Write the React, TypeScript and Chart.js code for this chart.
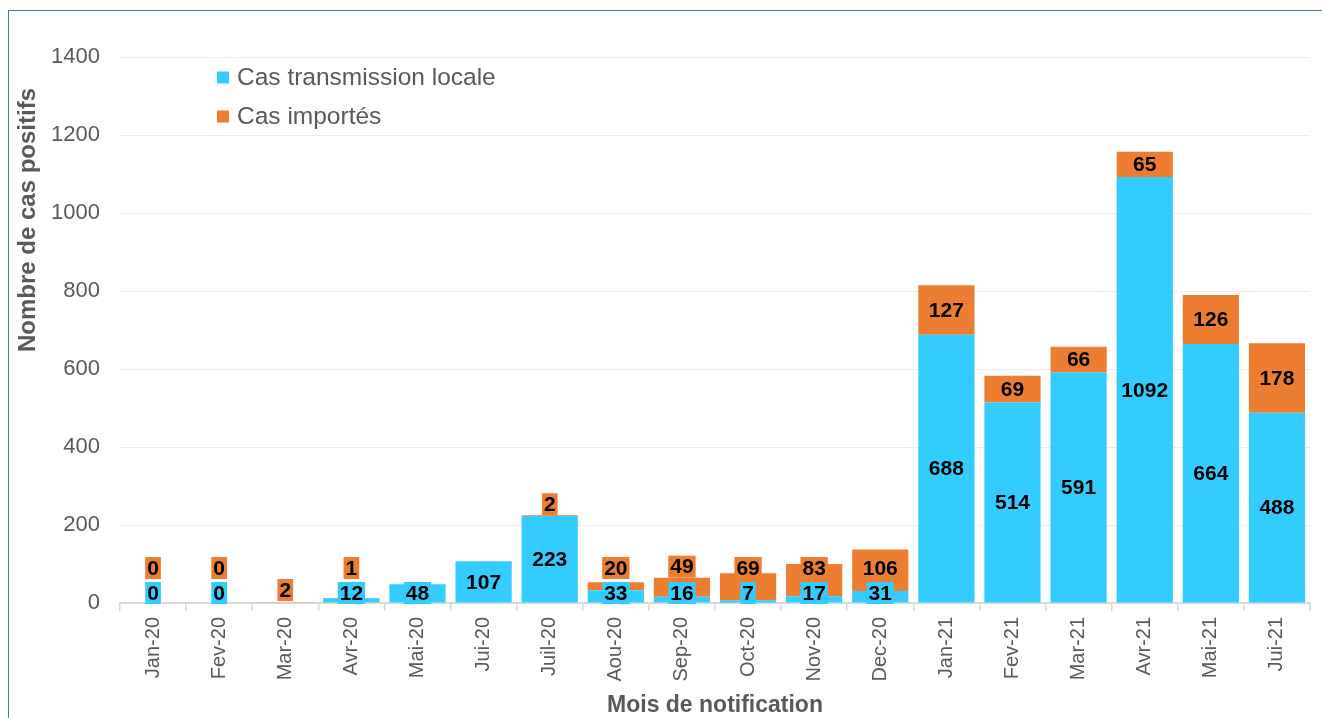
import React, { useEffect, useRef } from "react";
import { Chart, registerables } from "chart.js";

Chart.register(...registerables);

const categories = [
  "Jan-20", "Fev-20", "Mar-20", "Avr-20", "Mai-20", "Jui-20", "Juil-20", "Aou-20", "Sep-20",
  "Oct-20", "Nov-20", "Dec-20", "Jan-21", "Fev-21", "Mar-21", "Avr-21", "Mai-21", "Jui-21",
];
const localCases: (number | null)[] = [0, 0, null, 12, 48, 107, 223, 33, 16, 7, 17, 31, 688, 514, 591, 1092, 664, 488];
const importedCases: (number | null)[] = [0, 0, 2, 1, null, null, 2, 20, 49, 69, 83, 106, 127, 69, 66, 65, 126, 178];
const seriesNames = ["Cas transmission locale", "Cas importés"];
const seriesColors = ["#33CCFF", "#ED7D31"];
const yTicks = [0, 200, 400, 600, 800, 1000, 1200, 1400];
const xTitle = "Mois de notification";
const yTitle = "Nombre de cas positifs";

const FONT = "'Liberation Sans', Arial, Helvetica, sans-serif";
const GREY = "#595959";

const overlayPlugin = {
  id: "overlay",
  afterDatasetsDraw(chart: any) {
    const ctx = chart.ctx as CanvasRenderingContext2D;
    const area = chart.chartArea;
    const yScale = chart.scales.y;
    const base = yScale.getPixelForValue(0);
    const boxH = 22;

    // segment labels
    ctx.save();
    ctx.font = `bold 21px ${FONT}`;
    ctx.textAlign = "center";
    ctx.textBaseline = "middle";
    categories.forEach((_, i) => {
      let prevTop = base + 1;
      chart.data.datasets.forEach((ds: any, di: number) => {
        const v = ds.data[i];
        if (v == null) return;
        const el = chart.getDatasetMeta(di).data[i];
        const top = Math.min(el.y, el.base);
        const bottom = Math.max(el.y, el.base);
        const h = bottom - top;
        let cy = h < boxH && di > 0 ? top - boxH / 2 : (top + bottom) / 2;
        cy = Math.min(cy, prevTop - (di > 0 ? 3 : 0) - boxH / 2);
        const text = String(v);
        const w = ctx.measureText(text).width + 4;
        ctx.fillStyle = ds.backgroundColor;
        ctx.fillRect(el.x - w / 2, cy - boxH / 2, w, boxH);
        ctx.fillStyle = "#000000";
        ctx.fillText(text, el.x, cy + 1);
        prevTop = cy - boxH / 2;
      });
    });
    ctx.restore();

    // legend (inside plot area)
    ctx.save();
    ctx.font = `24.5px ${FONT}`;
    ctx.textAlign = "left";
    ctx.textBaseline = "middle";
    chart.data.datasets.forEach((ds: any, di: number) => {
      const cy = area.top + 20.5 + di * 39;
      ctx.fillStyle = ds.backgroundColor;
      ctx.fillRect(area.left + 97, cy - 6, 12, 12);
      ctx.fillStyle = GREY;
      ctx.fillText(ds.label, area.left + 117, cy + 1);
    });
    ctx.restore();

    // y axis title
    ctx.save();
    ctx.font = `bold 24px ${FONT}`;
    ctx.fillStyle = GREY;
    ctx.textAlign = "center";
    ctx.textBaseline = "middle";
    ctx.translate(19, area.top + 163);
    ctx.rotate(-Math.PI / 2);
    ctx.fillText(yTitle, 0, 0);
    ctx.restore();
  },
};

export default function App() {
  const ref = useRef<HTMLCanvasElement | null>(null);

  useEffect(() => {
    if (!ref.current) return;
    const chart = new Chart(ref.current, {
      type: "bar",
      data: {
        labels: categories,
        datasets: [
          {
            label: seriesNames[0],
            data: localCases,
            backgroundColor: seriesColors[0],
            borderWidth: 0,
            barPercentage: 0.85,
            categoryPercentage: 1,
          },
          {
            label: seriesNames[1],
            data: importedCases,
            backgroundColor: seriesColors[1],
            borderWidth: 0,
            barPercentage: 0.85,
            categoryPercentage: 1,
          },
        ],
      },
      options: {
        responsive: false,
        animation: false,
        layout: { padding: { left: 0, top: 46, right: 12, bottom: 0 } },
        plugins: {
          legend: { display: false },
          tooltip: { enabled: false },
        },
        scales: {
          x: {
            stacked: true,
            grid: {
              display: true,
              drawOnChartArea: false,
              drawTicks: true,
              tickLength: 8,
              color: "#d9d9d9",
              lineWidth: 1.5,
            },
            border: { display: true, color: "#d9d9d9", width: 2 },
            ticks: {
              autoSkip: false,
              minRotation: 90,
              maxRotation: 90,
              padding: 6,
              color: GREY,
              font: { size: 20, family: FONT },
            },
            title: {
              display: true,
              text: xTitle,
              color: GREY,
              font: { size: 23, weight: "bold", family: FONT },
              padding: { top: 0, bottom: -1 },
            },
            afterFit: (s: any) => {
              s.height = 115;
            },
          },
          y: {
            stacked: true,
            min: yTicks[0],
            max: yTicks[yTicks.length - 1],
            grid: { color: "#ebebeb", lineWidth: 1, drawTicks: false },
            border: { display: false },
            ticks: {
              stepSize: yTicks[1] - yTicks[0],
              padding: 20,
              color: GREY,
              font: { size: 22, family: FONT },
              callback: (v: any) => String(v),
            },
            afterFit: (s: any) => {
              s.width = 111;
            },
          },
        },
      },
      plugins: [overlayPlugin],
    } as any);
    return () => chart.destroy();
  }, []);

  return (
    <div
      style={{
        position: "fixed",
        left: 8,
        top: 10,
        width: 1314,
        height: 708,
        boxSizing: "border-box",
        borderTop: "1px solid #4472C4",
        borderLeft: "1px solid #4472C4",
        background: "#ffffff",
      }}
    >
      <canvas ref={ref} width={1313} height={707} style={{ display: "block" }} />
    </div>
  );
}
